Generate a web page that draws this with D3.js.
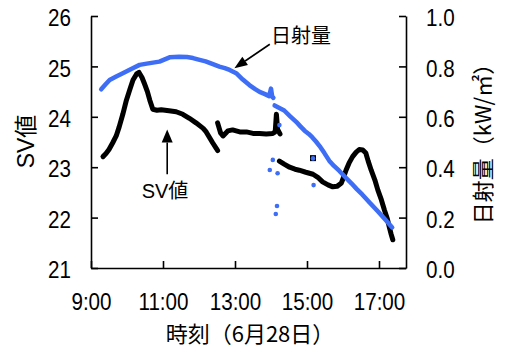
<!DOCTYPE html>
<html><head><meta charset="utf-8">
<script src="https://cdn.jsdelivr.net/npm/d3@7"></script>
<style>
body{margin:0;background:#fff}
svg{display:block}
</style></head><body>
<svg id="c" width="507" height="354"></svg>
<script>
// ---- data ----
const xTickLabels = ["9:00","11:00","13:00","15:00","17:00"];
const xDomain = ["9:00","17:45"];
const svTicks = [21,22,23,24,25,26];
const radTicks = [0,0.2,0.4,0.6,0.8,1.0];

// SV値 series (null = break in the trace)
const svTimes = ["9:20","9:25","9:30","9:36","9:42","9:47","9:53","9:59","10:05","10:10","10:16","10:20","10:25","10:29","10:34","10:38","10:43","10:50","10:57","11:10","11:22","11:33","11:44","11:55","12:07","12:12","12:17","12:23","12:29","12:31",
  "12:31",
  "12:31","12:36","12:40","12:48","12:56","13:08","13:19","13:30","13:41","13:52","14:03","14:07","14:09","14:11","14:15",
  "14:15",
  "14:14","14:22","14:31","14:40","14:47","14:58","15:10","15:18","15:26","15:35","15:43","15:50","15:57","16:01","16:05","16:10","16:16","16:22","16:27","16:33","16:38","16:42","16:47","16:53","16:58","17:04","17:09","17:14","17:17","17:20","17:23"];
const svValues = [23.21,23.27,23.35,23.48,23.62,23.80,24.05,24.33,24.55,24.73,24.85,24.88,24.78,24.66,24.50,24.33,24.15,24.13,24.14,24.12,24.10,24.05,23.97,23.88,23.77,23.70,23.60,23.48,23.37,23.33,
  null,
  23.88,23.68,23.62,23.72,23.74,23.70,23.70,23.67,23.67,23.66,23.67,23.70,24.05,23.75,23.66,
  null,
  23.12,23.06,23.00,22.96,22.94,22.90,22.86,22.80,22.71,22.65,22.61,22.62,22.68,22.80,22.94,23.08,23.21,23.30,23.35,23.34,23.28,23.12,22.94,22.75,22.55,22.35,22.15,21.97,21.82,21.68,21.56];
const svOutlierTimes = ["15:10"];
const svOutlierValues = [23.18];

// 日射量 series (kW/m2)
const radTimes = ["9:17","9:24","9:31","9:42","9:53","10:07","10:21","10:33","10:46","10:54","11:11","11:27","11:40","11:50","12:01","12:11","12:21","12:34","12:43","12:51","13:02","13:13","13:24","13:33","13:41","13:50","13:57","14:00","14:02","14:04",
  "14:05",
  "14:06","14:14","14:22","14:32","14:42","14:49","14:56","15:03","15:09","15:15","15:21","15:29","15:37","15:45","15:54","16:04","16:14","16:23","16:32","16:45","16:58","17:10","17:22"];
const radValues = [0.709,0.728,0.746,0.760,0.773,0.790,0.806,0.811,0.816,0.819,0.836,0.838,0.837,0.833,0.826,0.820,0.811,0.799,0.793,0.786,0.773,0.748,0.726,0.711,0.699,0.690,0.682,0.712,0.680,0.675,
  null,
  0.645,0.635,0.625,0.602,0.580,0.562,0.545,0.532,0.518,0.502,0.484,0.456,0.426,0.405,0.385,0.360,0.336,0.313,0.292,0.258,0.225,0.193,0.161];
const radOutlierTimes = ["13:58","14:03","14:08","14:10","14:11","14:14","15:10","15:11"];
const radOutlierValues = [0.389,0.429,0.214,0.246,0.376,0.567,0.435,0.329];

// ---- drawing ----
const parseT = s => { const [h,m] = s.split(":").map(Number); return h*60+m; };
const fmtT = v => `${Math.floor(v/60)}:${String(Math.round(v%60)).padStart(2,"0")}`;

const svg = d3.select("#c");
const L = 91, R = 406, T = 16, B = 268;
const x = d3.scaleLinear().domain(xDomain.map(parseT)).range([L, R]);
const ySV = d3.scaleLinear().domain([21,26]).range([B, T]);
const yRad = d3.scaleLinear().domain([0,1]).range([B, T]);

const LATIN = "'Liberation Sans', Arial, 'Noto Sans CJK JP', sans-serif";
const CJK = "'Noto Sans CJK JP', 'Liberation Sans', sans-serif";
const SQ = 0.86;

function styleAxis(g, k){
  g.select(".domain").attr("stroke","#000").attr("stroke-width",1.6);
  g.selectAll(".tick line").attr("stroke","#000").attr("stroke-width",1.6);
  g.selectAll(".tick text")
    .attr("font-family", LATIN).attr("font-size", 24).attr("fill","#000")
    .attr("transform", `scale(${SQ},1)`)
    .attr("x", function(){ return (+d3.select(this).attr("x")||0)/SQ; });
}

const gx = svg.append("g").attr("transform",`translate(0,${B})`)
  .call(d3.axisBottom(x).tickValues(xTickLabels.map(parseT)).tickFormat(fmtT)
    .tickSize(-7).tickSizeOuter(0).tickPadding(25));
gx.attr("font-size",null).attr("font-family",null);
styleAxis(gx);

const gl = svg.append("g").attr("transform",`translate(${L},0)`)
  .call(d3.axisLeft(ySV).tickValues(svTicks).tickFormat(d3.format("d"))
    .tickSize(-7).tickSizeOuter(0).tickPadding(20));
styleAxis(gl);
gl.selectAll(".tick text").attr("dy","0.4em");

const gr = svg.append("g").attr("transform",`translate(${R},0)`)
  .call(d3.axisRight(yRad).tickValues(radTicks).tickFormat(d3.format(".1f"))
    .tickSize(-7).tickSizeOuter(0).tickPadding(20));
styleAxis(gr);
gr.selectAll(".tick text").attr("dy","0.4em");

// series
const svData = svTimes.map((t,i)=>({t:parseT(t), v:svValues[i]}));
const radData = radTimes.map((t,i)=>({t:parseT(t), v:radValues[i]}));

svg.append("path").datum(svData)
  .attr("fill","none").attr("stroke","#000").attr("stroke-width",5)
  .attr("stroke-linejoin","round").attr("stroke-linecap","round")
  .attr("d", d3.line().defined(d=>d.v!=null).x(d=>x(d.t)).y(d=>ySV(d.v)));

svg.selectAll("rect.svo").data(svOutlierTimes.map((t,i)=>({t:parseT(t),v:svOutlierValues[i]})))
  .join("rect").attr("class","svo")
  .attr("x",d=>x(d.t)-3).attr("y",d=>ySV(d.v)-3).attr("width",6).attr("height",6).attr("fill","#000");

const BLUE = "#3d6ef5";
svg.append("path").datum(radData)
  .attr("fill","none").attr("stroke",BLUE).attr("stroke-width",4.5)
  .attr("stroke-linejoin","round").attr("stroke-linecap","round")
  .attr("d", d3.line().defined(d=>d.v!=null).x(d=>x(d.t)).y(d=>yRad(d.v)));

svg.selectAll("circle.ro").data(radOutlierTimes.map((t,i)=>({t:parseT(t),v:radOutlierValues[i]})))
  .join("circle").attr("class","ro")
  .attr("cx",d=>x(d.t)).attr("cy",d=>yRad(d.v)).attr("r",2.3).attr("fill",BLUE);

// axis titles
svg.append("text").attr("transform","translate(34,141.5) rotate(-90)")
  .attr("text-anchor","middle").attr("font-family",LATIN).attr("font-size",23).text("SV値");
svg.append("text").attr("transform","translate(491,138.5) rotate(-90)")
  .attr("text-anchor","middle").attr("font-family",CJK).attr("font-size",22).text("日射量（kW/㎡）");
svg.append("text").attr("x",250).attr("y",342)
  .attr("text-anchor","middle").attr("font-family",CJK).attr("font-size",22).text("時刻（6月28日）");

// annotations
function arrow(x1,y1,x2,y2,len,w){
  const a = Math.atan2(y2-y1,x2-x1);
  const bx = x2 - len*Math.cos(a), by = y2 - len*Math.sin(a);
  svg.append("line").attr("x1",x1).attr("y1",y1).attr("x2",bx).attr("y2",by)
    .attr("stroke","#000").attr("stroke-width",1.6);
  const px = -Math.sin(a)*w/2, py = Math.cos(a)*w/2;
  svg.append("path").attr("d",`M${x2},${y2}L${bx+px},${by+py}L${bx-px},${by-py}Z`).attr("fill","#000");
}
arrow(x(parseT("13:58")), yRad(0.888), x(parseT("12:59")), yRad(0.7925), 13, 10);
svg.append("text").attr("x",271).attr("y",43).attr("font-family",CJK).attr("font-size",20).text("日射量");

arrow(x(parseT("11:07")), ySV(22.86), x(parseT("11:07")), ySV(23.75), 13, 11);
svg.append("text").attr("x",165).attr("y",198).attr("text-anchor","middle")
  .attr("font-family",LATIN).attr("font-size",20).text("SV値");
</script>
</body></html>
